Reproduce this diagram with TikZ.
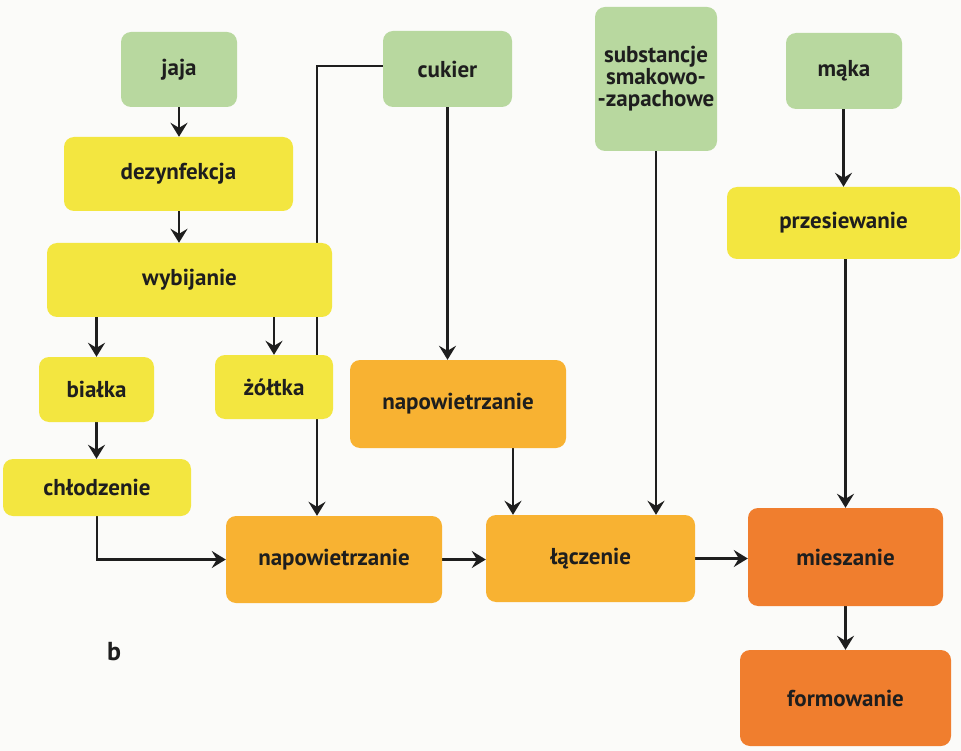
\documentclass[tikz,border=0pt]{standalone}
\usepackage{fontspec}
\setmainfont{PT Sans}
\usetikzlibrary{arrows.meta,backgrounds,calc}
\definecolor{bgc}{HTML}{FBFBF9}
\definecolor{grn}{HTML}{B8D89F}
\definecolor{ylw}{HTML}{F3E640}
\definecolor{orn}{HTML}{F8B232}
\definecolor{dorn}{HTML}{F07E2E}
\definecolor{ink}{HTML}{1E1E1E}
\tikzset{
  box/.style={rounded corners=10pt, inner sep=2pt, align=center, text=ink,
    font=\fontsize{23}{22}\selectfont\bfseries},
  gbox/.style={box, fill=grn},
  ybox/.style={box, fill=ylw},
  obox/.style={box, fill=orn},
  dbox/.style={box, fill=dorn},
  conn/.style={draw=ink, line width=2.4pt},
  arr/.style={conn, -{Stealth[length=14pt,width=17pt,inset=5pt]}},
}
\begin{document}
\begin{tikzpicture}[x=1pt,y=-1pt]
\useasboundingbox (0,0) rectangle (961,751);
% nodes: center (cx,cy), size w x h
\node[gbox, minimum width=116pt, minimum height=75pt] (jaja) at (179,69.5) {jaja};
\node[ybox, minimum width=229pt, minimum height=74pt] (dez) at (178.5,174) {dezynfekcja};
\node[ybox, minimum width=285pt, minimum height=74pt] (wyb) at (189.5,280) {wybijanie};
\node[gbox, minimum width=129pt, minimum height=76pt] (cuk) at (447.5,69) {cukier};
\node[gbox, minimum width=122pt, minimum height=144pt] (sub) at (656,79) {substancje\\smakowo-\\-zapachowe};
\node[gbox, minimum width=116pt, minimum height=76pt] (maka) at (844,71) {mąka};
\node[ybox, minimum width=233pt, minimum height=72pt] (prz) at (843.5,223) {przesiewanie};
\node[ybox, minimum width=115pt, minimum height=65pt] (bia) at (96.5,389.5) {białka};
\node[ybox, minimum width=118pt, minimum height=64pt] (zol) at (274,387) {żółtka};
\node[obox, minimum width=216pt, minimum height=88pt] (nap2) at (458,404) {napowietrzanie};
\node[ybox, minimum width=188pt, minimum height=57pt] (chl) at (97,487.5) {chłodzenie};
\node[obox, minimum width=216pt, minimum height=87pt] (nap1) at (334,559.5) {napowietrzanie};
\node[obox, minimum width=209pt, minimum height=87pt] (lac) at (590.5,558.5) {łączenie};
\node[dbox, minimum width=195pt, minimum height=98pt] (mie) at (845.5,557) {mieszanie};
\node[dbox, minimum width=211pt, minimum height=96pt] (for) at (845.5,698) {formowanie};
\node[text=ink, font=\fontsize{26}{26}\selectfont\bfseries] (b) at (114,652) {b};
\coordinate (kc) at (317,66);
\coordinate (kn) at (513,0);
\begin{scope}[on background layer]
\fill[bgc] (0,0) rectangle (961,751);
\draw[arr] (jaja.south) -- (jaja.south |- dez.north);
\draw[arr] (dez.south -| jaja.south) -- (wyb.north -| jaja.south);
\draw[arr] (wyb.south -| bia.north) -- (bia.north);
\draw[arr] (wyb.south -| zol.north) -- (zol.north);
\draw[arr] (bia.south) -- (chl.north -| bia.south);
\draw[arr] (chl.south) |- (nap1.west);
\draw[arr] (cuk.west |- kc) -- (kc) -- (kc |- nap1.north);
\draw[arr] (cuk.south) -- (cuk.south |- nap2.north);
\draw[arr] (nap2.south -| kn) -- (lac.north -| kn);
\draw[arr] (sub.south) -- (sub.south |- lac.north);
\draw[arr] (nap1.east) -- (lac.west |- nap1.east);
\draw[arr] (lac.east) -- (mie.west |- lac.east);
\draw[arr] (maka.south -| prz.north) -- (prz.north);
\draw[arr] (prz.south -| mie.north) -- (mie.north);
\draw[arr] (mie.south) -- (for.north);
\end{scope}
\end{tikzpicture}
\end{document}
